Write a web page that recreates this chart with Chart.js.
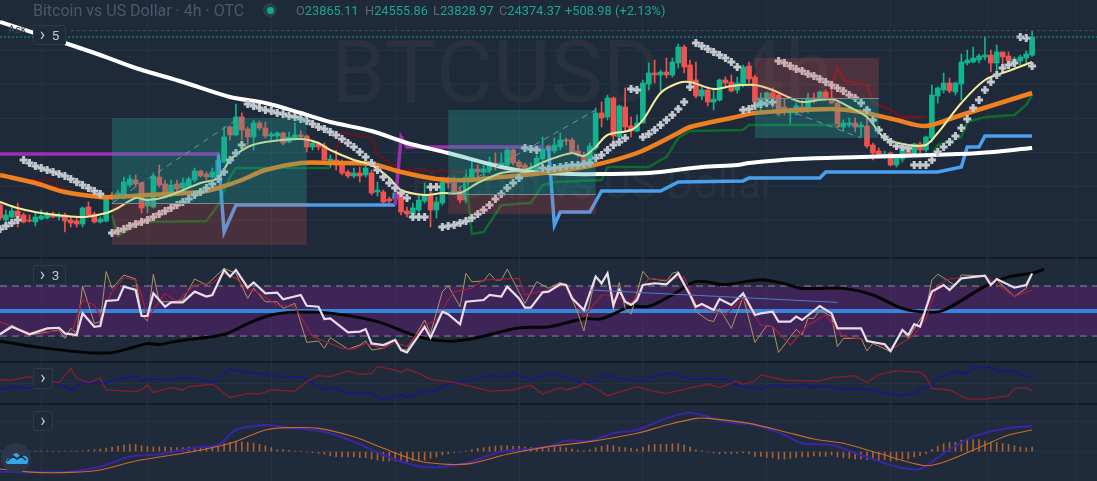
<!DOCTYPE html>
<html>
<head>
<meta charset="utf-8">
<title>Bitcoin vs US Dollar</title>
<script src="https://cdn.jsdelivr.net/npm/chart.js@4/dist/chart.umd.min.js"></script>
<style>
  html, body { margin: 0; padding: 0; background: #1e2939; overflow: hidden; }
  #wrap { position: relative; width: 1097px; height: 481px; font-family: Roboto, "Open Sans", sans-serif; overflow: hidden; }
  #chart { position: absolute; left: 0; top: 0; z-index: 2; }
  .pane { position: absolute; left: 0; width: 1097px; background: #1f2b3b; border-top: 2px solid #151c28; box-sizing: border-box; }
  .mark { position: absolute; white-space: nowrap; color: #28323f; z-index: 1; }
  .head { position: absolute; top: 1px; font-size: 16px; line-height: 20px; white-space: nowrap; color: #4d596a; z-index: 3; }
  .ohlc { top: 2px; font-size: 12.8px; line-height: 18px; color: #5d6979; }
  .head b { font-weight: 400; color: #1fa590; }
  .btn { position: absolute; left: 33px; box-sizing: border-box; background: #1f2a3a; border: 1px solid #2e3a4a; border-radius: 2px; color: #c2c7cf; font-size: 13.5px; line-height: 18px; z-index: 3; text-align: center; }
  .btn i { font-style: normal; font-size: 18px; line-height: 14px; }
  #dot { position: absolute; left: 263px; top: 3px; width: 14px; height: 14px; border-radius: 50%; background: #26423f; z-index: 3; }
  #dot i { position: absolute; left: 3.5px; top: 3.5px; width: 7px; height: 7px; border-radius: 50%; background: #14a594; }
  #logo { position: absolute; left: 0; top: 442px; z-index: 3; }
</style>
</head>
<body>
<div id="wrap">
  <div class="pane" style="top:257px;height:105px"></div>
  <div class="pane" style="top:361px;height:43px"></div>
  <div class="pane" style="top:403px;height:78px"></div>
  <div class="mark" style="left:331px;top:24px;font-size:88px;line-height:96px">BTCUSD</div>
  <div class="mark" style="left:735px;top:24px;font-size:88px;line-height:96px">4h</div>
  <div class="mark" style="right:322px;top:160px;font-size:42px;line-height:48px">Bitcoin vs US Dollar</div>
  <canvas id="chart" width="1097" height="481"></canvas>
  <div class="head" style="left:33px">Bitcoin vs US Dollar · 4h · OTC</div>
  <div id="dot"><i></i></div>
  <div class="head ohlc" style="left:296px">O<b>23865.11</b></div>
  <div class="head ohlc" style="left:365px">H<b>24555.86</b></div>
  <div class="head ohlc" style="left:433px">L<b>23828.97</b></div>
  <div class="head ohlc" style="left:499px">C<b>24374.37</b></div>
  <div class="head ohlc" style="left:565px"><b>+508.98</b></div>
  <div class="head ohlc" style="left:615px"><b>(+2.13%)</b></div>
  <div class="head" style="left:8px;top:22px;font-size:11px;line-height:16px;color:#3b4656">Ask</div>
  <div class="btn" style="top:25px;width:33px;height:20px"><i>›</i>&nbsp; 5</div>
  <div class="btn" style="top:265px;width:33px;height:20px"><i>›</i>&nbsp; 3</div>
  <div class="btn" style="top:368px;width:20px;height:21px;line-height:19px"><i>›</i></div>
  <div class="btn" style="top:411px;width:20px;height:20px;line-height:18px"><i>›</i></div>
  <svg id="logo" width="34" height="34" viewBox="0 0 34 34">
    <circle cx="16" cy="16" r="15" fill="#2b3748"/>
    <path d="M6 20 q0 -4 4 -4 l4 -4 q2 -2 4 0 l3 3 q2 -2 4 -1 q4 1 3 6 q0 2 -3 2 h-16 q-3 0 -3 -2z" fill="#35a6e8"/>
    <path d="M7 19 l6 -5 l4 3 l4 -3 l5 4" fill="none" stroke="#1c2c3e" stroke-width="1.6"/>
  </svg>
</div>
<script>
// candles: index = bar number, last bar is the header's OHLC
const opens = [
  19670,19250,19334,19502,19390,19250,19194,19278,19306,19418,
  19334,19390,19250,19222,19138,19614,19418,19194,19222,19950,
  19922,19866,20230,20370,20286,19642,19614,20454,20258,20006,
  20258,20146,20174,20370,20622,20538,20454,20454,20874,21854,
  21630,22134,21798,21574,21966,21826,21602,21602,21686,21434,
  21546,21630,21602,21294,21378,21322,20846,20930,20874,20594,
  20482,20566,20510,20566,20034,20034,19838,19838,20006,19502,
  19418,19530,19782,19950,19530,19726,20342,20286,20062,19810,
  20426,20678,20594,20650,20846,20790,20790,21210,20874,20790,
  20594,20650,20958,21322,21182,21294,21490,21490,21182,21070,
  20846,21266,22246,22134,22666,21574,22414,21882,21742,21966,
  23058,23366,23310,23394,23310,23646,24094,23590,23170,22722,
  22890,22554,22610,23170,23114,22890,23030,23562,23254,22470,
  22610,22806,22750,22414,22246,22246,22414,22302,22666,22666,
  22834,22666,22526,21854,21910,21966,21854,21882,21350,21182,
  21070,21126,20790,20958,21294,21098,21378,21210,21546,22722,
  22890,23086,22834,23058,23646,23674,23730,23814,23870,23646,
  23954,23842,23674,23702,23786,23865.11];
const highs = [
  19754,19530,19614,19726,19446,19390,19446,19530,19474,19474,
  19446,19446,19334,19306,19614,19754,19474,19334,19950,20034,
  20090,20454,20510,20510,20314,19866,20566,20790,20370,20370,
  20370,20426,20454,20706,20650,20594,20706,21154,21854,21882,
  22498,22246,21854,22050,22022,21994,21714,21714,21714,21714,
  21966,21742,21630,21434,21434,21406,21070,21210,20930,20650,
  20706,20734,20846,20650,20314,20090,19894,20230,20090,19614,
  19726,19950,20286,20286,19894,20370,20454,20454,20174,20650,
  20986,20790,20790,21014,21126,21126,21266,21266,20930,20846,
  20846,21070,21574,21350,21546,21686,21546,21546,21350,21154,
  21406,22386,22554,22750,22694,22470,22946,22134,22190,23170,
  23646,23730,23450,23786,23786,24178,24150,23730,23674,22974,
  22974,22946,23198,23254,23310,23254,23590,23674,23310,22806,
  22834,22946,22806,22638,22386,22526,22610,22806,22806,22862,
  22890,22974,22554,22050,22106,22106,21994,22330,21406,21266,
  21182,21154,21014,21350,21350,21406,21434,21602,23030,22974,
  23366,23226,23114,23898,24010,24094,23898,24374,24010,24150,
  23954,23954,23814,23870,23982,24555.86];
const lows = [
  19250,19166,19306,19054,19166,19194,19082,19250,19278,19306,
  19250,18914,19054,19054,19054,19334,19166,19166,19194,19810,
  19838,19838,20174,20174,19446,19446,19586,20174,19866,19894,
  20034,20090,20146,20314,20454,20370,20426,20454,20846,21490,
  21602,21490,21350,21210,21770,21546,21490,21518,21350,21406,
  21490,21546,21154,21210,21210,20874,20706,20650,20510,20426,
  20426,20314,20454,19950,19922,19726,19670,19726,19390,19334,
  19334,19474,19726,19054,19306,19670,20146,20006,19726,19726,
  20314,20426,20454,20566,20650,20706,20734,20790,20650,20566,
  20566,20594,20874,20650,21126,21210,21350,21126,21014,20734,
  20790,21210,21854,22050,21434,21490,21714,21574,21714,21966,
  22890,23086,22862,23226,23254,23506,23366,22890,22666,22610,
  22442,22330,22582,22946,22834,22806,22974,23086,22526,22246,
  22554,22386,22162,22190,21938,22190,22246,22246,22526,22610,
  22610,22498,21826,21742,21854,21714,21574,21266,20930,21014,
  20986,20762,20734,20874,21014,21070,21126,21154,21434,22526,
  22806,22806,22750,22610,23590,23646,23646,23730,23394,23394,
  23534,23534,23534,23590,23646,23828.97];
const closes = [
  19306,19390,19502,19334,19194,19222,19334,19362,19418,19334,
  19390,19222,19166,19138,19586,19390,19194,19278,19894,19894,
  20006,20314,20398,20258,19586,19838,20482,20230,19894,20230,
  20118,20286,20398,20622,20482,20454,20594,20930,21574,21630,
  22134,21770,21574,21966,21826,21602,21658,21686,21406,21574,
  21630,21574,21294,21406,21294,20930,20958,20790,20566,20482,
  20566,20482,20706,20006,20090,19754,19782,20006,19474,19418,
  19586,19810,19950,19530,19754,20314,20286,20034,19810,20454,
  20678,20594,20678,20874,20790,20846,21210,20846,20734,20594,
  20706,20986,21238,21210,21350,21490,21462,21154,21070,20818,
  21322,22246,22106,22666,21602,22442,21854,21742,21966,23086,
  23366,23310,23394,23310,23674,24094,23534,23114,22722,22890,
  22554,22638,23170,23086,22862,23086,23534,23198,22554,22666,
  22806,22666,22218,22330,22274,22442,22274,22666,22610,22834,
  22666,22526,21854,21966,21966,21854,21910,21322,21126,21070,
  21098,20790,20986,21294,21098,21378,21210,21574,22750,22946,
  23086,22862,23086,23674,23730,23786,23842,23870,23646,23954,
  23814,23702,23758,23814,23898,24374.37];

// parabolic SAR, one value per bar
const psar = [
  18998,19082,19166,19250,20930,20846,20762,20706,20650,20594,
  20538,20482,20398,20314,20230,20146,20062,19978,null,18886,
  18942,18998,19082,19138,19194,19250,19334,19418,19502,19586,
  19670,19754,19838,19950,20034,20146,20258,20398,20594,20930,
  21126,21350,22498,22442,22386,22330,22302,22246,22218,22162,
  22134,22078,22022,21938,21854,21798,21714,21630,21518,21406,
  21294,21154,21014,20846,20650,20454,20286,20146,20006,19866,
  19334,19334,19334,20174,20174,19054,19082,19110,19166,19222,
  19306,19418,19530,19670,19838,19978,20146,20286,20426,21266,
  21238,21210,20706,20678,20706,20734,20762,20790,20790,20818,
  20846,20986,21070,21210,21350,21434,21546,22918,22890,21574,
  21658,21770,21910,22050,22190,22358,22554,22974,24206,24122,
  24038,23954,23870,23786,23674,23534,22330,22358,22442,22498,
  22526,22554,23702,23646,23562,23478,23422,23338,23282,23198,
  23114,23030,22946,22862,22750,22666,22526,22330,22050,21770,
  21574,21434,21322,21294,21266,20790,20790,20790,20930,21154,
  21294,21434,21602,21826,22078,22386,22610,22890,23114,23310,
  23506,23590,23646,24374,24346,23562];

// moving averages and levels as [bar, price]
const emaLong = [[0,24794],[11,24206],[17,23870],[23,23506],[31,23114],[39,22694],[45,22526],[51,22246],[56,21994],[63,21742],[69,21406],[76,21126],[85,20734],[90,20594],[97,20538],[102,20538],[110,20566],[119,20734],[125,20790],[127,20846],[135,20958],[146,21014],[158,21070],[166,21126],[175,21266]];
const emaMid = [[0,20510],[6,20286],[11,20034],[17,19894],[19,19894],[25,19950],[34,20034],[37,20146],[41,20370],[45,20650],[51,20846],[56,20846],[63,20818],[68,20594],[74,20398],[79,20370],[85,20454],[92,20566],[100,20762],[108,21126],[115,21686],[117,21854],[124,22106],[128,22246],[141,22358],[146,22274],[152,22050],[157,21882],[163,22190],[169,22498],[175,22806]];
const emaFast = [[0,19754],[3,19586],[7,19446],[14,19334],[18,19446],[20,19586],[23,19866],[25,19810],[28,19894],[34,20286],[37,20426],[39,20930],[42,21294],[45,21434],[51,21518],[54,21406],[56,21210],[60,20930],[63,20790],[66,20426],[68,20090],[72,19950],[75,20006],[78,20006],[81,20286],[85,20566],[89,20650],[93,20930],[97,21126],[99,21042],[101,21294],[103,21630],[107,21770],[109,22050],[112,22806],[115,23086],[117,23114],[121,22918],[124,23002],[128,23030],[131,22890],[134,22666],[136,22554],[141,22638],[144,22414],[147,22134],[150,21546],[154,21350],[157,21350],[159,21686],[163,22526],[167,23170],[171,23422],[175,23674]];
const levelPurpleA = [[0,21098],[37,21098]];
const levelBlueA = [[37,21098],[38,18914],[40,19670],[67,19670]];
const levelPurpleB = [[67,19670],[68,21574],[69,21294],[92,21294]];
const levelBlueB = [[93,21294],[94,19110],[95,19474],[100,19474],[102,20062],[112,20062],[115,20314],[126,20342],[127,20426],[139,20426],[140,20594],[159,20594],[163,20734],[164,21294],[166,21294],[167,21602],[175,21602]];
const greenA = [[19,19390],[20,18802],[24,19194],[35,19222],[37,19670],[39,20454],[40,20706],[56,20706]];
const greenB = [[79,20454],[80,18858],[82,18914],[85,19670],[90,19726],[92,20230],[94,20314],[102,20370],[103,20734],[110,20734],[112,20930],[113,21014],[115,21546],[117,21742],[126,21770],[127,21910],[142,21910]];
const greenC = [[158,21070],[159,21350],[163,21574],[164,21994],[167,22134],[172,22190],[174,22470],[175,22750]];
const maroonA = [[0,20454],[5,20370],[9,20370],[10,20174],[13,19950],[17,19894]];
const maroonB = [[57,21210],[58,21714],[60,21630],[63,21546],[64,21070],[66,20874],[68,20650],[79,20594]];
const maroonC = [[141,22974],[142,23534],[143,23170],[147,23030],[148,22554],[151,22330],[153,22134],[157,22134]];
const askPrice = [[12,24556],[186,24556]];
const lastPrice = [[0,24374],[186,24374]];

// long / short position tools
const boxStart = [19, 76, 128];
const boxEnd = [52, 101, 149];
const boxTop = [22106, 22330, 23786];
const boxEntry = [19726, 19978, 22666];
const boxBottom = [18550, 19418, 21546];
const boxUpper = ['rgba(38,166,154,.3)', 'rgba(38,166,154,.3)', 'rgba(239,83,80,.22)'];
const boxLower = ['rgba(239,83,80,.2)', 'rgba(239,83,80,.2)', 'rgba(38,166,154,.3)'];
const pathA = [[19,19726],[40,22050]];
const pathB = [[76,19978],[101,22330]];
const pathC = [[128,22666],[146,21546]];

// RSI pane
const rsiLevel50 = [[0,50],[186,50]];
const rsiLevel70 = [[0,70],[186,70]];
const rsiLevel30 = [[0,30],[186,30]];
const rsiMain = [[0,31.3],[2,37.4],[5,31.3],[8,36.1],[10,36.6],[11,32.1],[13,30.8],[14,48.1],[16,37.4],[17,38],[18,58],[20,58.8],[21,69.5],[23,66.8],[24,46],[25,46],[26,64.1],[28,53.4],[29,56.9],[31,56.9],[33,65.5],[35,61.5],[36,62.8],[38,82.8],[39,77.5],[40,82.8],[42,68.7],[43,72.9],[45,64.1],[47,64.7],[48,59.4],[51,62.8],[52,54.2],[54,53.4],[55,43.6],[56,44.1],[59,32.9],[61,33.5],[62,35.5],[63,24.1],[65,22.8],[67,26.8],[68,18.8],[69,16.9],[72,37.4],[73,28.7],[75,49.4],[76,47.4],[78,39.4],[79,57.4],[82,58.8],[83,62.8],[85,61.5],[86,69.5],[88,60.1],[89,52.7],[90,52.7],[92,64.9],[93,65.5],[95,71.4],[96,70.8],[97,60.1],[99,50.8],[101,77.5],[102,72.2],[103,80.1],[104,54.8],[105,66.8],[106,57.4],[107,54.8],[108,58.8],[109,70.8],[111,72.2],[113,71.4],[115,80.1],[117,62.8],[118,53.4],[119,55.6],[121,50.8],[122,59.6],[124,54.8],[126,64.1],[128,46.8],[129,48.1],[131,49.5],[132,41.5],[134,41.5],[135,45.5],[136,42.8],[139,54],[141,48.1],[142,36.1],[146,36.1],[147,26],[150,23.4],[151,18],[153,34.8],[154,30.8],[155,39.4],[156,37.5],[157,52.1],[158,65.5],[160,70.8],[161,66.8],[163,76.1],[167,78.2],[168,70.8],[169,75.6],[172,68.7],[174,70.8],[175,80.1]];
const rsiTan = [[0,32.1],[2,38.8],[5,30.8],[10,34.8],[11,28.1],[12,36.1],[13,32.1],[14,70.2],[16,40.1],[17,41.5],[18,81.5],[19,68.2],[21,78.8],[23,75.6],[24,46.8],[25,42.1],[26,79.4],[27,57.4],[29,57.4],[31,58.8],[33,75.6],[35,70.8],[38,84.1],[40,80.1],[42,60.1],[43,68.2],[45,57.4],[47,57.4],[48,52.1],[50,56.1],[52,24.9],[54,26],[55,20.2],[56,28.7],[59,19.5],[61,22.8],[62,26],[63,18.8],[65,20.2],[67,27.6],[68,19.5],[69,18.8],[72,42.8],[73,32.1],[75,65.5],[76,70.2],[78,53.4],[79,80.1],[80,73.4],[82,74],[83,80.1],[84,74.8],[85,74.8],[86,83.5],[89,56.1],[91,73.4],[93,68.2],[95,72.9],[96,70.8],[98,48.1],[99,34],[101,78.2],[102,70.8],[103,80.1],[104,50.8],[105,72.9],[106,52.1],[107,47.4],[109,81.8],[110,76.1],[113,74],[114,80.1],[115,81.5],[117,62.8],[118,49.5],[120,42.8],[121,41.5],[122,52.1],[124,36.1],[126,61.5],[128,24.9],[130,38.2],[131,37.5],[132,16.9],[135,35.4],[136,30.8],[137,44.1],[138,44.1],[139,50.8],[141,45.5],[142,21.5],[143,28.1],[146,28.1],[147,18],[148,24.1],[151,17.5],[153,34.8],[154,28.1],[157,50.8],[158,74.8],[159,79.5],[162,70.2],[163,78.8],[167,78.2],[168,72.2],[169,74.8],[172,61.5],[174,68.2],[175,79.4]];
const rsiRed = [[0,41.5],[2,37.5],[5,32.9],[10,34],[12,30.8],[14,58.8],[16,54.8],[17,45.5],[19,65.5],[21,76.7],[23,74.8],[24,62.8],[25,44.1],[28,64.1],[30,57.4],[33,70.8],[36,72.2],[38,80.1],[40,76.1],[42,66.8],[43,66.8],[47,54.8],[50,53.4],[53,29.5],[58,20.2],[60,19.5],[62,24.1],[65,20.2],[67,24.9],[69,21.5],[72,38.8],[74,42.8],[76,58.8],[77,65.5],[80,68.2],[82,74.8],[88,76.1],[89,62.8],[93,66.8],[96,70.8],[99,45.5],[102,62.8],[104,62.8],[107,56.1],[110,76.1],[113,74.8],[116,77.5],[118,54.8],[123,46.8],[126,60.1],[129,38.8],[131,37.5],[134,22.8],[137,38.8],[140,46.8],[143,29.5],[146,27.6],[149,24.1],[151,18.8],[155,30.8],[157,44.1],[159,70.8],[161,75.6],[167,78.2],[172,61.5],[175,66.8]];
const rsiSlow = [[0,25.9],[6,21.3],[14,17.1],[19,16.7],[25,23.9],[27,23.2],[30,25.9],[38,31.2],[42,39.9],[46,46.8],[50,49.1],[56,48.3],[64,41.5],[71,29.3],[76,25.9],[80,27.8],[88,36.5],[93,37.3],[99,43.8],[102,43.8],[107,53.7],[110,53.7],[114,62.8],[118,73.5],[123,71.2],[129,75],[133,71.9],[136,68.1],[143,68.1],[148,62.8],[153,52.1],[157,49.1],[160,50.6],[167,69.7],[171,77.3],[175,80.3],[177,83.4]];
const rsiTrend = [[100,66.8],[142,56.9]];

// DMI pane
const diPlus = [[0,14.4],[2,17.2],[5,15.8],[8,20],[10,20],[12,14.4],[14,20],[18,20],[20,24.2],[21,24.2],[23,26.5],[24,22],[26,23.7],[29,22.8],[31,24.8],[33,24.2],[36,20.8],[39,32],[42,29.2],[45,27.8],[48,25],[51,25.6],[53,20],[55,14.4],[57,16.6],[59,11.6],[62,12.4],[65,6.6],[68,10.2],[69,8],[72,14.4],[73,12.4],[77,20.8],[80,22.8],[83,26.5],[86,25],[87,29.2],[90,22.8],[93,28.4],[96,25],[99,20],[101,22],[103,27.8],[105,23.6],[109,22],[111,26.5],[114,28.4],[117,23.6],[120,23.6],[123,23.6],[125,18.6],[129,15],[131,18.6],[134,17.2],[136,19.2],[138,16.6],[140,18],[142,15.2],[145,15.2],[147,15.2],[152,10.2],[155,10.8],[156,15.8],[158,17.8],[159,24.2],[162,30.4],[164,27.8],[165,33.2],[168,33.2],[169,30.4],[172,30.4],[174,25.3],[175,25.3]];
const diMinus = [[0,22.8],[2,22.8],[5,25.6],[8,21.4],[10,20.6],[12,32.6],[13,24.2],[15,20.6],[17,24.2],[18,14.4],[23,13],[24,14.4],[25,18.6],[26,12.2],[29,16.4],[31,14.4],[32,17.2],[36,19.2],[37,15.8],[39,7.9],[42,11.6],[44,11],[46,14.4],[50,13.5],[52,21.4],[54,26.5],[56,25.6],[59,30.4],[61,27.6],[63,28.4],[64,34],[67,31.2],[68,29.2],[69,32],[71,28.4],[73,23.3],[75,22],[77,20.8],[80,17.2],[83,13.5],[87,14.4],[90,18.6],[92,10.8],[93,13],[95,16.4],[96,14.4],[98,17.2],[99,20],[100,18.6],[103,9.6],[108,17.2],[111,13],[113,11.6],[118,17.2],[120,19.2],[122,16.4],[125,22],[126,19.2],[128,22],[129,27],[133,22.8],[136,22],[139,22],[141,24.8],[145,26.5],[147,20.6],[149,27.6],[152,30.4],[156,29.2],[157,25.6],[158,15.8],[161,14.4],[164,6.8],[167,6.8],[171,9.6],[172,15.8],[174,16.6],[175,13.5]];

// MACD pane
const macdLine = [[0,-240],[6,-248],[12,-240],[17,-180],[22,-60],[27,-32],[33,48],[37,80],[40,260],[45,320],[49,288],[55,240],[60,120],[65,-40],[70,-160],[74,-188],[79,-140],[85,0],[93,60],[96,132],[100,128],[104,220],[108,260],[113,400],[117,468],[123,360],[128,320],[133,200],[136,100],[141,80],[146,-40],[152,-180],[156,-208],[160,-20],[165,180],[170,272],[175,308]];
const macdSignal = [[0,-208],[6,-248],[12,-248],[17,-220],[23,-112],[32,-8],[39,100],[45,260],[49,288],[54,280],[60,180],[65,40],[71,-112],[76,-152],[80,-140],[86,-32],[93,60],[100,120],[108,220],[113,320],[118,400],[120,400],[127,340],[133,240],[138,152],[143,100],[149,-20],[157,-168],[161,-100],[167,80],[171,200],[175,260]];
const macdHist = [
  0,0,0,0,0,0,8,8,8,8,
  8,8,8,8,12,20,24,32,40,52,
  68,80,88,88,72,64,56,56,56,52,
  48,48,56,56,56,56,64,80,96,112,
  120,116,112,104,88,72,48,24,24,16,
  8,4,-4,-12,-20,-32,-48,-60,-64,-64,
  -64,-72,-72,-88,-100,-112,-112,-112,-120,-120,
  -112,-112,-104,-80,-64,-40,-24,-8,-4,8,
  24,40,48,60,68,72,72,64,64,56,
  52,48,48,48,56,56,48,32,20,12,
  24,48,64,80,72,56,48,40,32,56,
  80,88,88,88,96,96,80,56,24,12,
  -8,-16,-24,-24,-24,-20,-16,-24,-56,-56,
  -72,-72,-88,-88,-80,-72,-64,-64,-48,-56,
  -56,-40,-64,-72,-80,-88,-88,-96,-96,-104,
  -96,-112,-104,-88,-88,-64,-48,-24,24,64,
  96,112,112,136,136,144,144,128,112,112,
  96,88,72,56,48,56];

// grid positions
const gridBars = [16, 34, 58, 76, 100, 118, 142, 160, 175];
const gridPrices = [24010, 23030, 22106, 21126, 20174, 19222];
const gridDi = [20];
const gridMacd = [0, 360];

const up = '#12b48e', down = '#ef5350';
const pts = a => a.map(([x, y]) => ({ x, y }));

function line(data, color, width, order, yAxisID, extra) {
  return Object.assign({ type: 'line', data: pts(data), borderColor: color, borderWidth: width, pointRadius: 0, tension: 0, order, yAxisID, clip: false }, extra || {});
}

const wicks = opens.map((o, i) => ({ x: i, y: [lows[i], highs[i]] }));
const bodies = opens.map((o, i) => ({ x: i, y: [o, closes[i]] }));
const candleColors = opens.map((o, i) => closes[i] >= o ? up : down);

// draws the position boxes over the candles so they tint them, as on the original
const positionBoxes = {
  id: 'positionBoxes',
  afterDatasetsDraw(chart) {
    const { ctx, scales: { x, y } } = chart;
    ctx.save();
    boxStart.forEach((s, i) => {
      const l = x.getPixelForValue(s), r = x.getPixelForValue(boxEnd[i]);
      const t = y.getPixelForValue(boxTop[i]), m = y.getPixelForValue(boxEntry[i]), b = y.getPixelForValue(boxBottom[i]);
      ctx.fillStyle = boxUpper[i];
      ctx.fillRect(l, t, r - l, m - t);
      ctx.fillStyle = boxLower[i];
      ctx.fillRect(l, m, r - l, b - m);
      ctx.fillStyle = '#7d8791';
      ctx.fillRect(l, m, r - l, 1);
    });
    ctx.restore();
  }
};

const hiddenY = (min, max, ticks) => ({
  type: 'linear', position: 'left', min, max,
  display: !!ticks,
  border: { display: false },
  ticks: { display: false },
  grid: { color: '#263243', lineWidth: 1, drawTicks: false },
  afterFit: ax => { ax.width = 0; },
  afterBuildTicks: ax => { if (ticks) ax.ticks = ticks.map(value => ({ value })); }
});

const smooth = { tension: 0.3 };

new Chart(document.getElementById('chart'), {
  data: {
    datasets: [
      { type: 'bar', data: wicks, backgroundColor: candleColors, barThickness: 1, grouped: false, order: 21, yAxisID: 'y' },
      { type: 'bar', data: bodies, backgroundColor: candleColors, barThickness: 5, grouped: false, order: 20, yAxisID: 'y' },
      line(greenA, '#0f6a2e', 2.5, 15, 'y'),
      line(greenB, '#0f6a2e', 2.5, 15, 'y'),
      line(greenC, '#0f6a2e', 2.5, 15, 'y'),
      line(maroonA, '#5c1720', 2.5, 15, 'y'),
      line(maroonB, '#5c1720', 2.5, 15, 'y'),
      line(maroonC, '#6d1620', 2.5, 15, 'y'),
      line(emaLong, '#ffffff', 4, 9, 'y', smooth),
      line(emaMid, '#f0801f', 4.5, 8, 'y', smooth),
      line(emaFast, '#f5ec9c', 2, 7, 'y', smooth),
      line(levelPurpleA, '#9c2fb0', 3.5, 10, 'y'),
      line(levelPurpleB, '#9c2fb0', 3.5, 10, 'y'),
      line(levelBlueA, '#4a9fee', 3.5, 10, 'y'),
      line(levelBlueB, '#4a9fee', 3.5, 10, 'y'),
      line(psar.map((v, i) => [i, v]).filter(p => p[1] !== null), '#c3c7ce', 0, 6, 'y', { showLine: false, pointStyle: 'cross', pointRadius: 4, pointBorderWidth: 3, pointBorderColor: '#c3c7ce' }),
      line(lastPrice, '#1f9e8e', 1, 5, 'y', { borderDash: [2, 2] }),
      line(askPrice, '#3f4a5a', 1, 5, 'y', { borderDash: [3, 3] }),
      line(pathA, '#8a949e', 1, 5, 'y', { borderDash: [6, 5] }),
      line(pathB, '#8a949e', 1, 5, 'y', { borderDash: [6, 5] }),
      line(pathC, '#8a949e', 1, 5, 'y', { borderDash: [6, 5] }),

      line(rsiLevel70, '#8b8f9a', 1, 31, 'yRsi', { borderDash: [7, 5], fill: '+1', backgroundColor: 'rgba(150,20,170,.26)' }),
      line(rsiLevel30, '#8b8f9a', 1, 31, 'yRsi', { borderDash: [7, 5] }),
      line(rsiLevel50, '#3585df', 4, 28, 'yRsi'),
      line(rsiSlow, '#050505', 3, 27, 'yRsi', smooth),
      line(rsiTan, '#b3945f', 1, 26, 'yRsi'),
      line(rsiRed, '#a3213f', 1.2, 25, 'yRsi'),
      line(rsiMain, '#eadcec', 2.2, 24, 'yRsi'),
      line(rsiTrend, '#4a80c8', 1, 23, 'yRsi'),

      line(diPlus, '#15188a', 1.6, 24, 'yDi'),
      line(diMinus, '#8c1d2c', 1.3, 23, 'yDi'),

      { type: 'bar', data: macdHist.map((y, x) => ({ x, y })), backgroundColor: 'rgba(196,105,47,.85)', barThickness: 1, grouped: false, order: 26, yAxisID: 'yMacd' },
      line(macdLine, '#3a25a8', 2, 25, 'yMacd', smooth),
      line(macdSignal, '#cc6a2c', 1.1, 24, 'yMacd', smooth)
    ]
  },
  options: {
    responsive: false,
    animation: false,
    events: [],
    layout: { padding: 0, autoPadding: false },
    plugins: { legend: { display: false }, tooltip: { enabled: false } },
    scales: {
      x: {
        type: 'linear', min: 0, max: 186, offset: false,
        border: { display: false },
        ticks: { display: false },
        grid: { color: '#263243', lineWidth: 1, drawTicks: false },
        afterFit: ax => { ax.height = 0; },
        afterBuildTicks: ax => { ax.ticks = gridBars.map(value => ({ value })); }
      },
      // all panes share the full canvas height; the ranges place each pane at its own band
      y: hiddenY(11942, 25410, gridPrices),
      yRsi: hiddenY(-86, 298.8),
      yDi: hiddenY(-62.06, 342, gridDi),
      yMacd: hiddenY(-352, 5420, gridMacd)
    }
  },
  plugins: [positionBoxes]
});
</script>
</body>
</html>
